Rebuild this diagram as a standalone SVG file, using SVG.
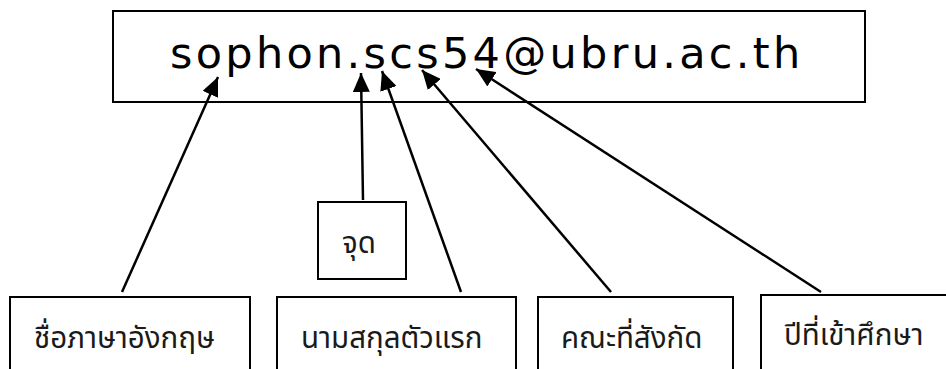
<svg xmlns="http://www.w3.org/2000/svg" width="946" height="369" viewBox="0 0 946 369">
  <style>
    .box { fill: #ffffff; stroke: #000000; stroke-width: 2; }
    .conn { fill: none; stroke: #000000; stroke-width: 2.5; }
    .email { font-family: "DejaVu Sans", "Liberation Sans", sans-serif; font-size: 43px; letter-spacing: 3.3px; fill: #000000; }
    .thai { font-family: "Noto Sans Thai", "Noto Sans", "DejaVu Sans", sans-serif; font-size: 29.5px; fill: #1a1a1a; }
  </style>
  <defs>
    <marker id="arrow" markerUnits="userSpaceOnUse" markerWidth="20" markerHeight="17" refX="19" refY="8.5" orient="auto">
      <path d="M0,0 L19,8.5 L0,17 z" fill="#000000"/>
    </marker>
  </defs>
  <rect width="946" height="369" fill="#ffffff"/>

  <g id="node-email">
    <rect class="box" x="113" y="11" width="752" height="91"/>
    <text class="email" x="170" y="68">sophon.scs54@ubru.ac.th</text>
  </g>

  <g id="node-dot">
    <rect class="box" x="318" y="202" width="88" height="77"/>
    <text class="thai" x="342" y="253">จุด</text>
  </g>

  <g id="node-firstname">
    <rect class="box" x="10" y="297" width="240" height="100"/>
    <text class="thai" x="34" y="348">ชื่อภาษาอังกฤษ</text>
  </g>

  <g id="node-surname">
    <rect class="box" x="277" y="297" width="239" height="100"/>
    <text class="thai" x="301" y="348">นามสกุลตัวแรก</text>
  </g>

  <g id="node-faculty">
    <rect class="box" x="538" y="297" width="195" height="100"/>
    <text class="thai" x="561" y="348">คณะที่สังกัด</text>
  </g>

  <g id="node-year">
    <rect class="box" x="761" y="295" width="200" height="100"/>
    <text class="thai" x="784" y="345">ปีที่เข้าศึกษา</text>
  </g>

  <g id="connectors">
    <line class="conn" x1="122" y1="292" x2="218" y2="77" marker-end="url(#arrow)"/>
    <line class="conn" x1="363" y1="200" x2="361" y2="73" marker-end="url(#arrow)"/>
    <line class="conn" x1="461" y1="292" x2="382" y2="71" marker-end="url(#arrow)"/>
    <line class="conn" x1="611" y1="292" x2="422" y2="70" marker-end="url(#arrow)"/>
    <line class="conn" x1="821" y1="292" x2="476" y2="69" marker-end="url(#arrow)"/>
  </g>
</svg>
